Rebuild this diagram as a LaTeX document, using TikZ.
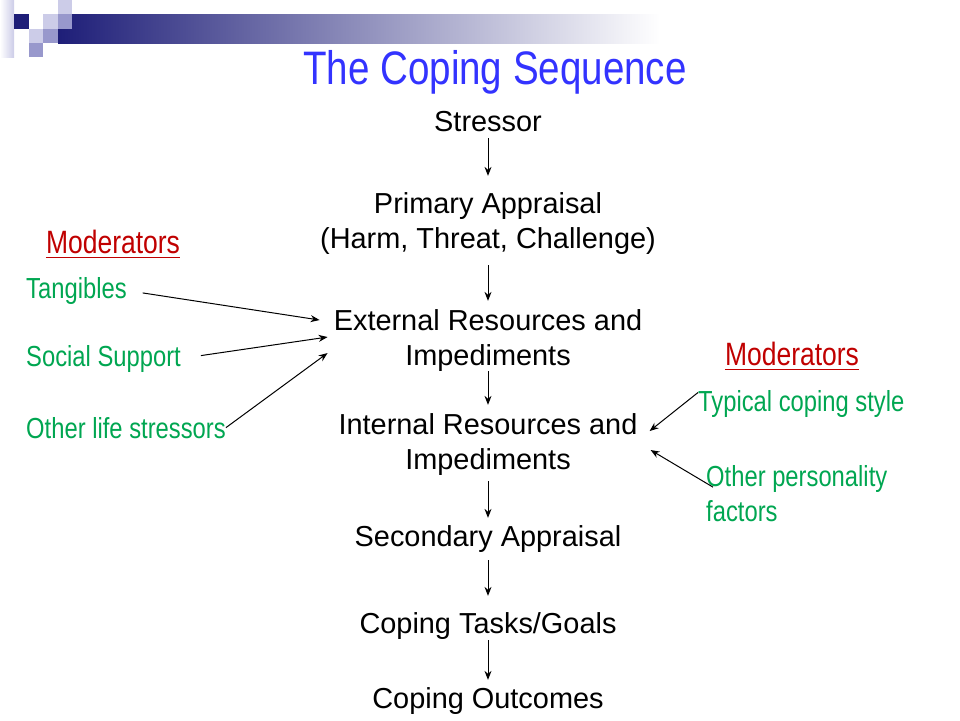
\documentclass[tikz,border=0pt]{standalone}
\usepackage{fontspec}
\setmainfont{Liberation Sans}
\newfontfamily\narrowfont[FakeStretch=0.82]{Liberation Sans}
\usetikzlibrary{arrows.meta}

\definecolor{titleblue}{RGB}{51,51,255}
\definecolor{modred}{RGB}{192,0,0}
\definecolor{factgreen}{RGB}{0,166,81}
\definecolor{navy}{RGB}{30,30,120}
\definecolor{lilac}{RGB}{204,204,232}
\definecolor{midlilac}{RGB}{152,152,204}

\tikzset{
  stage/.style={align=center, inner sep=0pt, anchor=base, font=\fontsize{28.9}{35}\selectfont},
  moder/.style={text=modred, inner sep=0pt, anchor=base, font=\narrowfont\fontsize{32.3}{38}\selectfont},
  factor/.style={text=factgreen, inner sep=0pt, anchor=base west, align=left, font=\narrowfont\fontsize{29}{35}\selectfont},
  arr/.style={-{Stealth[length=9pt,width=7pt]}, line width=1pt},
  uline/.style={modred, line width=1.5pt}
}

\begin{document}
\begin{tikzpicture}[x=1pt,y=-1pt]
  \useasboundingbox (0,0) rectangle (960,720);

  % banner in the corner
  \shade[left color=navy, right color=white] (58,14) rectangle (660,43);
  \shade[left color=white, right color=lilac] (0,0) rectangle (14,57);
  \fill [navy] (14,14) rectangle (29,29);
  \fill [lilac] (43,14) rectangle (58,29);
  \fill [lilac] (58,0) rectangle (72,14);
  \fill [midlilac] (58,14) rectangle (72,29);
  \fill [lilac] (29,29) rectangle (43,43);
  \fill [midlilac] (43,29) rectangle (58,43);
  \fill [midlilac] (29,43) rectangle (43,57);

  \node (title) [anchor=base, text=titleblue, inner sep=0pt,
    font=\narrowfont\fontsize{47}{50}\selectfont] at (495,84) {The Coping Sequence};

  % main sequence (base = last line)
  \node (stressor) [stage] at (488,131) {Stressor};
  \node (primary)  [stage] at (488,248) {Primary Appraisal\\(Harm, Threat, Challenge)};
  \node (external) [stage] at (488,365) {External Resources and\\Impediments};
  \node (internal) [stage] at (488,469) {Internal Resources and\\Impediments};
  \node (secondary)[stage] at (488,546) {Secondary Appraisal};
  \node (tasks)    [stage] at (488,633) {Coping Tasks/Goals};
  \node (outcomes) [stage] at (488,708) {Coping Outcomes};

  \draw [arr, shorten <=7pt, shorten >=16pt] (stressor.south) -- (primary.north);
  \draw [arr, shorten <=11pt, shorten >=8pt] (primary.south) -- (external.north);
  \draw [arr, shorten >=8pt] (external.south) -- (internal.north);
  \draw [arr, shorten <=6pt, shorten >=7pt] (internal.south) -- (secondary.north);
  \draw [arr, shorten <=8pt, shorten >=16pt] (secondary.south) -- (tasks.north);
  \draw [arr, shorten <=1pt, shorten >=7pt] (tasks.south) -- (outcomes.north);

  % moderators, left
  \node (modleft) [moder] at (113,253) {Moderators};
  \draw [uline] ([yshift=-4.5pt]modleft.base west) -- ([yshift=-4.5pt]modleft.base east);
  \node (tangibles) [factor] at (26,298) {Tangibles};
  \node (social)    [factor] at (26,366) {Social Support};
  \node (otherlife) [factor] at (26,438) {Other life stressors};

  \draw [arr, shorten <=16pt] (tangibles.east) -- ([xshift=-14pt,yshift=20pt]external.west);
  \draw [arr, shorten <=20pt] (social.east) -- ([xshift=-6pt,yshift=3pt]external.west);
  \draw [arr] (otherlife.east) -- ([xshift=-6pt,yshift=-13pt]external.west);

  % moderators, right
  \node (modright) [moder] at (792,365) {Moderators};
  \draw [uline] ([yshift=-4.5pt]modright.base west) -- ([yshift=-4.5pt]modright.base east);
  \node (typical) [factor] at (698,411) {Typical coping style};
  \node (persona) [factor] at (706,521) {Other personality\\factors};

  \draw [arr] ([yshift=11pt]typical.west) -- ([xshift=12pt,yshift=13pt]internal.east);
  \draw [arr] ([xshift=7pt,yshift=6pt]persona.west) -- ([xshift=13pt,yshift=-6pt]internal.east);
\end{tikzpicture}
\end{document}
